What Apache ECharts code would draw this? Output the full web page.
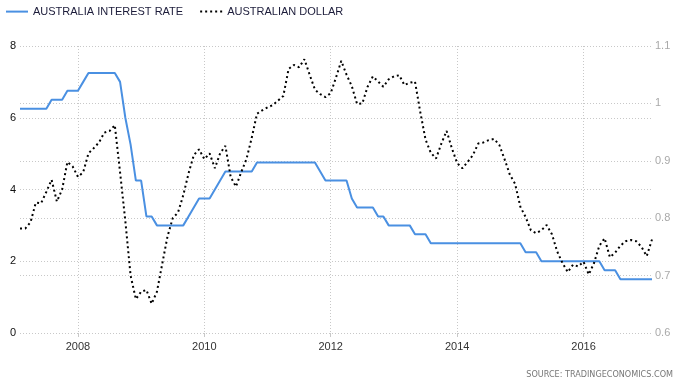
<!DOCTYPE html>
<html>
<head>
<meta charset="utf-8">
<script src="https://cdn.jsdelivr.net/npm/echarts@6/dist/echarts.min.js"></script>
<style>
html,body{margin:0;padding:0;background:#fff;}
#chart{width:677px;height:386px;}
</style>
</head>
<body>
<div id="chart"></div>
<script>
const months = [
  '2007-02','2007-03','2007-04','2007-05','2007-06','2007-07','2007-08','2007-09','2007-10','2007-11','2007-12',
  '2008-01','2008-02','2008-03','2008-04','2008-05','2008-06','2008-07','2008-08','2008-09','2008-10','2008-11','2008-12',
  '2009-01','2009-02','2009-03','2009-04','2009-05','2009-06','2009-07','2009-08','2009-09','2009-10','2009-11','2009-12',
  '2010-01','2010-02','2010-03','2010-04','2010-05','2010-06','2010-07','2010-08','2010-09','2010-10','2010-11','2010-12',
  '2011-01','2011-02','2011-03','2011-04','2011-05','2011-06','2011-07','2011-08','2011-09','2011-10','2011-11','2011-12',
  '2012-01','2012-02','2012-03','2012-04','2012-05','2012-06','2012-07','2012-08','2012-09','2012-10','2012-11','2012-12',
  '2013-01','2013-02','2013-03','2013-04','2013-05','2013-06','2013-07','2013-08','2013-09','2013-10','2013-11','2013-12',
  '2014-01','2014-02','2014-03','2014-04','2014-05','2014-06','2014-07','2014-08','2014-09','2014-10','2014-11','2014-12',
  '2015-01','2015-02','2015-03','2015-04','2015-05','2015-06','2015-07','2015-08','2015-09','2015-10','2015-11','2015-12',
  '2016-01','2016-02','2016-03','2016-04','2016-05','2016-06','2016-07','2016-08','2016-09','2016-10','2016-11','2016-12',
  '2017-01','2017-02'
];

const interestRate = [
  6.25,6.25,6.25,6.25,6.25,6.25,6.5,6.5,6.5,6.75,6.75,
  6.75,7.0,7.25,7.25,7.25,7.25,7.25,7.25,7.0,6.0,5.25,4.25,
  4.25,3.25,3.25,3.0,3.0,3.0,3.0,3.0,3.0,3.25,3.5,3.75,
  3.75,3.75,4.0,4.25,4.5,4.5,4.5,4.5,4.5,4.5,4.75,4.75,
  4.75,4.75,4.75,4.75,4.75,4.75,4.75,4.75,4.75,4.75,4.5,4.25,
  4.25,4.25,4.25,4.25,3.75,3.5,3.5,3.5,3.5,3.25,3.25,3.0,
  3.0,3.0,3.0,3.0,2.75,2.75,2.75,2.5,2.5,2.5,2.5,2.5,
  2.5,2.5,2.5,2.5,2.5,2.5,2.5,2.5,2.5,2.5,2.5,2.5,
  2.5,2.25,2.25,2.25,2.0,2.0,2.0,2.0,2.0,2.0,2.0,2.0,
  2.0,2.0,2.0,2.0,1.75,1.75,1.75,1.5,1.5,1.5,1.5,1.5,
  1.5,1.5
];

const audUsd = [
  0.782,0.782,0.793,0.827,0.826,0.846,0.867,0.829,0.850,0.898,0.890,
  0.872,0.880,0.913,0.922,0.932,0.949,0.952,0.962,0.880,0.795,0.700,0.659,
  0.672,0.675,0.651,0.672,0.720,0.768,0.800,0.810,0.840,0.878,0.910,0.920,
  0.903,0.913,0.887,0.913,0.926,0.872,0.855,0.880,0.903,0.940,0.982,0.988,
  0.993,0.997,1.005,1.013,1.060,1.067,1.063,1.077,1.050,1.024,1.016,1.011,
  1.018,1.045,1.074,1.050,1.030,0.999,1.000,1.029,1.047,1.038,1.029,1.042,
  1.047,1.049,1.032,1.036,1.038,0.985,0.937,0.914,0.904,0.930,0.952,0.922,
  0.896,0.887,0.898,0.910,0.930,0.932,0.936,0.938,0.928,0.903,0.876,0.860,
  0.820,0.802,0.779,0.774,0.779,0.788,0.772,0.742,0.722,0.706,0.719,0.716,
  0.724,0.702,0.722,0.752,0.765,0.732,0.740,0.752,0.760,0.762,0.760,0.750,
  0.734,0.763
];

const xTickYears = [2008, 2010, 2012, 2014, 2016];
const xRange = { first: '2007-02', last: '2017-02' };
const leftTicks = { min: 0, max: 8, interval: 2 };
const rightTicks = { min: 0.6, max: 1.1, interval: 0.1 };
const seriesNames = ['AUSTRALIA INTEREST RATE', 'AUSTRALIAN DOLLAR'];
const sourceText = 'SOURCE: TRADINGECONOMICS.COM';

// convert 'YYYY-MM' into a fractional year for the value axis
function toYear(m) {
  const [y, mo] = m.split('-').map(Number);
  return y + (mo - 1) / 12;
}
const rateData = months.map((m, i) => [toYear(m), interestRate[i]]);
const audData = months.map((m, i) => [toYear(m), audUsd[i]]);

const chart = echarts.init(document.getElementById('chart'), null, { renderer: 'canvas' });
const font = 'Liberation Sans, Arial, sans-serif';
const gridLine = { show: true, lineStyle: { color: '#c8c8c8', type: [1, 2], width: 1 } };

chart.setOption({
  animation: false,
  backgroundColor: '#fff',
  textStyle: { fontFamily: font },
  legend: {
    left: 5, top: 6, padding: 0,
    itemWidth: 22, itemHeight: 14, itemGap: 16,
    itemStyle: { opacity: 0 },
    textStyle: { fontSize: 11, color: '#1c1c3a', fontFamily: font },
    data: seriesNames
  },
  grid: { left: 20, right: 25, top: 46, bottom: 53, containLabel: false },
  xAxis: {
    type: 'value',
    min: toYear(xRange.first),
    max: toYear(xRange.last),
    axisLine: { show: false },
    axisTick: { show: true, length: 4, customValues: xTickYears, lineStyle: { color: '#c8c8c8' } },
    axisLabel: {
      customValues: xTickYears,
      color: '#333', fontSize: 11, fontFamily: font, margin: 8,
      formatter: v => String(Math.round(v))
    },
    splitLine: gridLine
  },
  yAxis: [
    {
      type: 'value', position: 'left',
      min: leftTicks.min, max: leftTicks.max, interval: leftTicks.interval,
      axisLine: { show: false }, axisTick: { show: false },
      axisLabel: { color: '#111', fontSize: 11, fontFamily: font, margin: 4 },
      splitLine: gridLine
    },
    {
      type: 'value', position: 'right',
      min: rightTicks.min, max: rightTicks.max, interval: rightTicks.interval,
      axisLine: { show: false }, axisTick: { show: false },
      axisLabel: { color: '#a9a9a9', fontSize: 11, fontFamily: font, margin: 3 },
      splitLine: gridLine
    }
  ],
  series: [
    {
      name: seriesNames[0], type: 'line', yAxisIndex: 0,
      data: rateData, symbol: 'none', showSymbol: false,
      lineStyle: { color: '#4a90e2', width: 2 },
      itemStyle: { color: '#4a90e2' }
    },
    {
      name: seriesNames[1], type: 'line', yAxisIndex: 1,
      data: audData, symbol: 'none', showSymbol: false,
      lineStyle: { color: '#000', width: 2, type: [2, 3] },
      itemStyle: { color: '#000' }
    }
  ],
  graphic: [
    {
      type: 'text', right: 4, top: 370,
      style: { text: sourceText, fill: '#777', font: '9px "Liberation Sans Narrow", "DejaVu Sans Condensed", Arial, sans-serif' }
    }
  ]
});
</script>
</body>
</html>
